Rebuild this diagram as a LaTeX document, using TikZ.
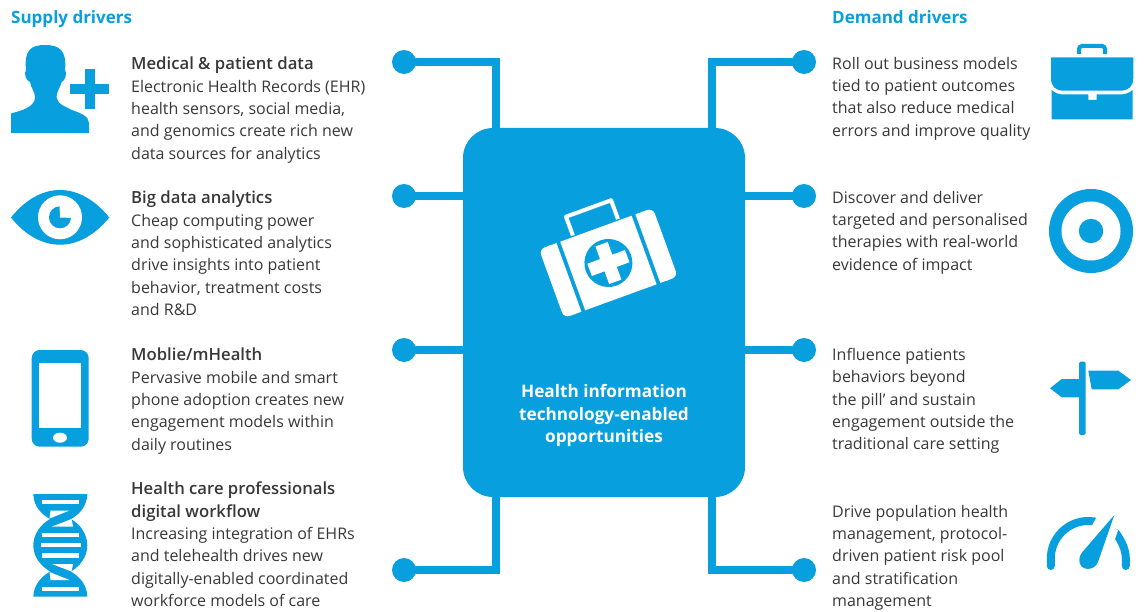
\documentclass[tikz,border=0pt]{standalone}
\usepackage{fontspec}
\setmainfont{Open Sans}
\definecolor{hblue}{HTML}{089FDE}
\definecolor{htext}{HTML}{383838}
\tikzset{
  x=1pt,y=-1pt,
  dot/.style={circle,fill=hblue,minimum size=24pt,inner sep=0pt},
  link/.style={draw=hblue,line width=8pt,line join=miter},
  hdr/.style={anchor=base west,inner sep=0pt,text=hblue,font=\fontsize{17}{18}\selectfont\bfseries},
  body/.style={anchor=north west,inner sep=0pt,align=left,text=htext,font=\fontsize{16}{22.3}\selectfont},
  icon/.style={fill=hblue,draw=none},
  iconw/.style={fill=white,draw=none},
}
\newcommand{\hd}[1]{{\fontspec{Open Sans Semibold}\fontsize{16.7}{22.3}\selectfont #1}}
\begin{document}
\begin{tikzpicture}
\useasboundingbox (0,0) rectangle (1145,612);
% hub
\fill[hblue,rounded corners=30pt] (463,128) rectangle (745,497);
\coordinate (hubT1) at (496,130); \coordinate (hubT2) at (712,130);
\coordinate (hubB1) at (496,495); \coordinate (hubB2) at (712,495);
\coordinate (hubL2) at (465,196); \coordinate (hubL3) at (465,350);
\coordinate (hubR2) at (743,196); \coordinate (hubR3) at (743,350);
\node[dot] (l1) at (404,62) {};
\node[dot] (l2) at (404,196) {};
\node[dot] (l3) at (404,350) {};
\node[dot] (l4) at (404,570) {};
\node[dot] (r1) at (804,62) {};
\node[dot] (r2) at (804,196) {};
\node[dot] (r3) at (804,350) {};
\node[dot] (r4) at (804,570) {};
\draw[link] (l1.center) -| (hubT1);
\draw[link] (l2.center) -- (hubL2);
\draw[link] (l3.center) -- (hubL3);
\draw[link] (l4.center) -| (hubB1);
\draw[link] (r1.center) -| (hubT2);
\draw[link] (r2.center) -- (hubR2);
\draw[link] (r3.center) -- (hubR3);
\draw[link] (r4.center) -| (hubB2);
% hub label
\node[inner sep=0pt,align=center,text=white,font=\fontsize{17.2}{22.9}\selectfont\bfseries] (hublabel) at (604,415.5) {Health information\\technology-enabled\\opportunities};
% medical case
\begin{scope}[shift={(608.4,263)},rotate=20]
  \fill[white,rounded corners=6pt] (-60.5,-36.5) rectangle (-44,36.5);
  \fill[white] (-50,-36.5) rectangle (-42,36.5);
  \fill[white,rounded corners=6pt] (44,-36.5) rectangle (60.5,36.5);
  \fill[white] (42,-36.5) rectangle (50,36.5);
  \fill[white] (-38,-36.5) rectangle (38,36.5);
  \draw[white,line width=4pt,line join=round] (-24,-38) -- (-24,-58) -- (24,-58) -- (24,-38);
  \fill[hblue] (0,0) circle (24pt);
  \fill[white] (-20,-6.5) rectangle (20,6.5);
  \fill[white] (-6.5,-20) rectangle (6.5,20);
\end{scope}
% headers
\node[hdr] (supply) at (11,24) {Supply drivers};
\node[hdr] (demand) at (832,24) {Demand drivers};
% left text
\node[body] (t1) at (131,57) {\hd{Medical \& patient data}\\Electronic Health Records (EHR)\\health sensors, social media,\\and genomics create rich new\\data sources for analytics};
\node[body] (t2) at (131,191) {\hd{Big data analytics}\\Cheap computing power\\and sophisticated analytics\\drive insights into patient\\behavior, treatment costs\\and R\&D};
\node[body] (t3) at (131,348) {\hd{Moblie/mHealth}\\Pervasive mobile and smart\\phone adoption creates new\\engagement models within\\daily routines};
\node[body] (t4) at (131,482) {\hd{Health care professionals}\\\hd{digital workflow}\\Increasing integration of EHRs\\and telehealth drives new\\digitally-enabled coordinated\\workforce models of care};
% right text
\node[body] (t5) at (832,57) {Roll out business models\\tied to patient outcomes\\that also reduce medical\\errors and improve quality};
\node[body] (t6) at (832,191) {Discover and deliver\\targeted and personalised\\therapies with real-world\\evidence of impact};
\node[body] (t7) at (832,348) {Influence patients\\behaviors beyond\\the pill’ and sustain\\engagement outside the\\traditional care setting};
\node[body] (t8) at (832,505) {Drive population health\\management, protocol-\\driven patient risk pool\\and stratification\\management};
% person
\fill[icon] (11,133) -- (11,113.5) .. controls (22,110.5) and (35,107) .. (35,97) .. controls (35,92) and (31,88) .. (30,82) .. controls (26,81) and (23.5,73) .. (26,70) .. controls (24,50) and (31,45) .. (45,45) .. controls (59,45) and (67,50) .. (65,70) .. controls (67.5,73) and (65,81) .. (61.7,82) .. controls (60,88) and (56.5,92) .. (56.5,97) .. controls (57,104) and (66,107) .. (72,110) .. controls (80,113) and (89,116) .. (89,123) -- (89,133) -- cycle;
\fill[icon] (70,84.3) rectangle (109.3,94);
\fill[icon] (84.7,69.3) rectangle (94.7,109);
% eye
\fill[icon] (11,217.5) .. controls (25,200) and (42,190) .. (60,190) .. controls (78,190) and (95,200) .. (109.3,217.5) .. controls (95,235) and (78,244.7) .. (60,244.7) .. controls (42,244.7) and (25,235) .. cycle;
\fill[iconw] (60,217.3) circle (22pt);
\fill[icon] (60,217.3) circle (11pt);
\fill[iconw] (60,217.5) -- (59.5,204) -- (73,204) -- (73,218) -- cycle;
% phone
\fill[icon,rounded corners=8pt] (31.7,350) rectangle (88.7,446.7);
\fill[iconw] (39.3,362.7) rectangle (81,427.7);
\fill[iconw] (60,437.7) ellipse (7pt and 5pt);
% dna
\fill[icon] (33.3,494) -- (87.3,494) .. controls (87,506) and (80,514) .. (71,519) .. controls (80,524) and (87.3,534) .. (87.3,545.3) .. controls (87.3,557) and (80,566) .. (71,571.5) .. controls (80,577) and (87,585) .. (87.3,596.7) -- (33.3,596.7) .. controls (33.6,585) and (41,577) .. (50,571.5) .. controls (41,566) and (33.3,557) .. (33.3,545.3) .. controls (33.3,534) and (41,524) .. (50,519) .. controls (41,514) and (33.6,506) .. cycle;
\fill[iconw] (50.5,510.5) -- (69.5,510.5) -- (49.5,518.5) -- cycle;
\fill[iconw] (71.5,519) -- (52,526.5) -- (73,526.5) -- cycle;
\fill[iconw] (50.5,580) -- (69.5,580) -- (49.5,572) -- cycle;
\fill[iconw] (71.5,571.5) -- (52,564) -- (73,564) -- cycle;
\foreach \ya/\xa/\xb in {500/42/79,532.5/42/79,542.7/40.5/80.5,553.3/42/79,586.7/42/79}
  \fill[iconw] (\xa,\ya) rectangle (\xb,\ya+4.3);
% briefcase
\fill[icon] (1051,57.3) -- (1133.3,57.3) -- (1133.3,78) .. controls (1133.3,87) and (1128,90.7) .. (1120,90.7) -- (1064,90.7) .. controls (1056,90.7) and (1051,87) .. (1051,78) -- cycle;
\fill[icon] (1051.7,90) .. controls (1055,93) and (1059,94.5) .. (1064,94.5) -- (1088.3,94.5) -- (1088.3,100) -- (1096.7,100) -- (1096.7,94.5) -- (1120,94.5) .. controls (1125,94.5) and (1129,93) .. (1132.7,90) -- (1132.7,119.3) -- (1051.7,119.3) -- cycle;
\draw[hblue,line width=4pt,rounded corners=3pt] (1079,54) -- (1079,46) -- (1105,46) -- (1105,54);
% target
\fill[icon] (1091,231) circle (42pt);
\fill[iconw] (1091,231) circle (29.5pt);
\fill[icon] (1091,231) circle (12.2pt);
% signpost
\fill[hblue,rounded corners=1.5pt] (1079,361.7) rectangle (1085.7,435);
\fill[icon] (1079,379) -- (1061.7,379) -- (1050,388.3) -- (1061.7,397.3) -- (1079,397.3) -- cycle;
\fill[icon] (1088.3,370.7) -- (1118.3,370.7) -- (1131,380) -- (1118.3,389.3) -- (1091.7,389.3) -- cycle;
% gauge
\draw[hblue,line width=8pt,line cap=round] (1050.8,566) -- (1050.8,558.5) .. controls (1050.8,537.8) and (1067.6,521) .. (1088.3,521) .. controls (1092,521) and (1096,521.5) .. (1099,522.5);
\fill[white] (1099,513) -- (1091.5,526.5) -- (1105,532) -- (1113,514) -- cycle;
\draw[hblue,line width=8pt,line cap=round] (1125.8,566) -- (1125.8,558.5) .. controls (1125.8,550) and (1122,542) .. (1116,533);
\fill[white] (1118,530.5) -- (1114.6,540) -- (1108,538) -- (1112,526) -- cycle;
\fill[icon] (1114.3,515) -- (1098,562) .. controls (1094,572) and (1079,571) .. (1079.3,560) .. controls (1079.3,557) and (1080,555) .. (1082,552.5) -- cycle;
\end{tikzpicture}
\end{document}
